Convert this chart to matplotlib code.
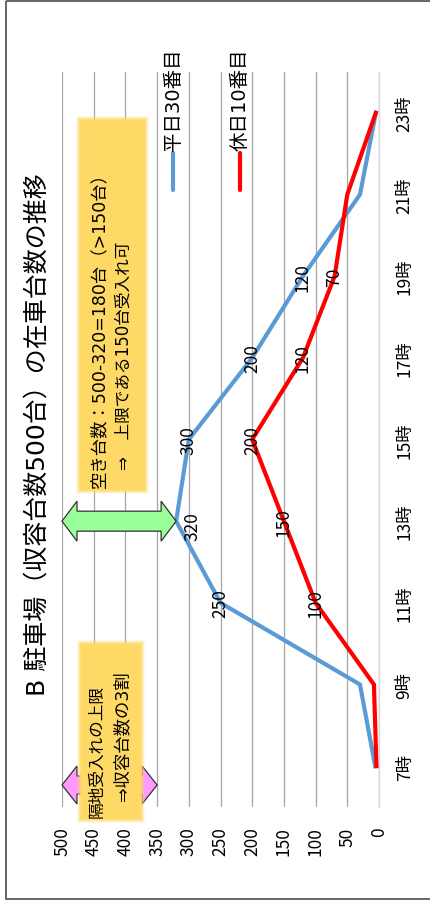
import matplotlib
matplotlib.use("Agg")
import matplotlib.pyplot as plt
from matplotlib.patches import Rectangle, Polygon
from matplotlib.lines import Line2D

plt.rcParams['font.family'] = ['Noto Sans CJK JP', 'DejaVu Sans']
MIX = ['DejaVu Sans', 'Noto Sans CJK JP']

# ---- data ----
hours = [7, 9, 11, 13, 15, 17, 19, 21, 23]
hour_labels = ["7時", "9時", "11時", "13時", "15時", "17時", "19時", "21時", "23時"]
weekday = [6, 30, 250, 320, 300, 200, 120, 30, 5]
holiday = [4, 8, 100, 150, 200, 120, 70, 50, 5]
weekday_labeled = {11: 250, 13: 320, 15: 300, 17: 200, 19: 120}
holiday_labeled = {11: 100, 13: 150, 15: 200, 17: 120, 19: 70}
value_ticks = list(range(0, 501, 50))
series_names = ["平日30番目", "休日10番目"]
title = "B 駐車場（収容台数500台）の在車台数の推移"
note1 = ["空き台数：500-320=180台（>150台）", "⇒　上限である150台受入れ可"]
note2 = ["隔地受入れの上限", "⇒収容台数の3割"]

W, H = 430, 903
BLUE = "#5B9BD5"
RED = "#FF0000"
FS = 12.5

fig = plt.figure(figsize=(W / 100, H / 100), dpi=100)
ax = fig.add_axes([62 / W, (H - 808) / H, (379 - 62) / W, (808 - 73) / H])
ax.set_xlim(500, 0)
ax.set_ylim(6, 24)

ax.plot(weekday, hours, color=BLUE, lw=3, solid_joinstyle='miter', zorder=3)
ax.plot(holiday, hours, color=RED, lw=3, solid_joinstyle='miter', zorder=4)

for h, v in weekday_labeled.items():
    off = (16, -4) if v == 320 else (0, 0)
    ax.annotate(str(v), (v, h), xytext=off, textcoords='offset pixels',
                ha='center', va='center', rotation=90, fontsize=FS, zorder=6)
for h, v in holiday_labeled.items():
    ax.annotate(str(v), (v, h), ha='center', va='center', rotation=90,
                fontsize=FS, zorder=6)

ax.set_xticks(value_ticks)
ax.set_xticklabels([str(v) for v in value_ticks], rotation=90)
ax.tick_params(axis='x', length=0, pad=14, labelsize=FS)
ax.yaxis.tick_right()
ax.set_yticks(hours)
ax.set_yticklabels(hour_labels, rotation=90, va='center')
ax.tick_params(axis='y', length=0, pad=12, labelsize=FS)
ax.grid(axis='x', color='#A6A6A6', lw=0.9)
ax.grid(axis='y', visible=False)
for s in ['top', 'bottom', 'left']:
    ax.spines[s].set_visible(False)
ax.spines['right'].set_color('#D9D9D9')
ax.spines['right'].set_linewidth(1.0)
ax.set_axisbelow(True)

# ---- overlay in pixel coords ----
ov = fig.add_axes([0, 0, 1, 1], zorder=5)
ov.set_xlim(0, W)
ov.set_ylim(H, 0)
ov.axis('off')

def px(v, h):
    dx, dy = ax.transData.transform((v, h))
    return dx, H - dy

def darrow(x0, x1, yc, hl, hw, sw, color, z):
    pts = [(x0, yc), (x0 + hl, yc - hw), (x0 + hl, yc - sw), (x1 - hl, yc - sw),
           (x1 - hl, yc - hw), (x1, yc), (x1 - hl, yc + hw), (x1 - hl, yc + sw),
           (x0 + hl, yc + sw), (x0 + hl, yc + hw)]
    ov.add_patch(Polygon(pts, closed=True, facecolor=color, edgecolor='#333333',
                         lw=0.9, zorder=z))

def glow_box(x0, y0, x1, y1, z):
    for i, a in zip([5, 4, 3, 2, 1], [0.15, 0.25, 0.4, 0.6, 0.8]):
        ov.add_patch(Rectangle((x0 - i, y0 - i), (x1 - x0) + 2 * i, (y1 - y0) + 2 * i,
                               facecolor='#FFD966', edgecolor='none', alpha=a, zorder=z))
    ov.add_patch(Rectangle((x0, y0), x1 - x0, y1 - y0, facecolor='#FFD966',
                           edgecolor='none', zorder=z))

# green arrow: empty spaces at 13時 (500 -> 320)
gx0, gy = px(500, 13)
gx1, _ = px(320, 13)
darrow(gx0, gx1, gy, 15, 20, 10, '#99FF99', 2)

# pink arrow: 30% of capacity (500 -> 350)
p0, _ = px(500, 7)
p1, _ = px(350, 7)
darrow(p0, p1, 786, 15, 19, 9, '#FF99FF', 2)

glow_box(81, 122, 144, 490, 3)
glow_box(82, 646, 140, 819, 3)

ov.text(99, 488, note1[0], rotation=90, ha='center', va='bottom', fontsize=12.5,
        family=MIX, zorder=4)
ov.text(124, 470, note1[1], rotation=90, ha='center', va='bottom', fontsize=12,
        family=MIX, zorder=4)
ov.text(96, 818, note2[0], rotation=90, ha='center', va='bottom', fontsize=12,
        family=MIX, zorder=4)
ov.text(122, 801, note2[1], rotation=90, ha='center', va='bottom', fontsize=12.5,
        family=MIX, zorder=4)

# title
ov.text(38, 435, title, rotation=90, ha='center', va='center', fontsize=18,
        family=MIX)

# legend
for xc, col, name in [(173, BLUE, series_names[0]), (240, RED, series_names[1])]:
    ov.add_line(Line2D([xc, xc], [154, 191], color=col, lw=3, solid_capstyle='round'))
    ov.text(xc, 151, name, rotation=90, ha='center', va='bottom', fontsize=14,
            family=MIX)

# outer frame
ov.add_patch(Rectangle((6, 2), 440, 898, facecolor='none', edgecolor='#595959',
                       lw=1.3, zorder=10))

fig.savefig("out.png", dpi=100)
